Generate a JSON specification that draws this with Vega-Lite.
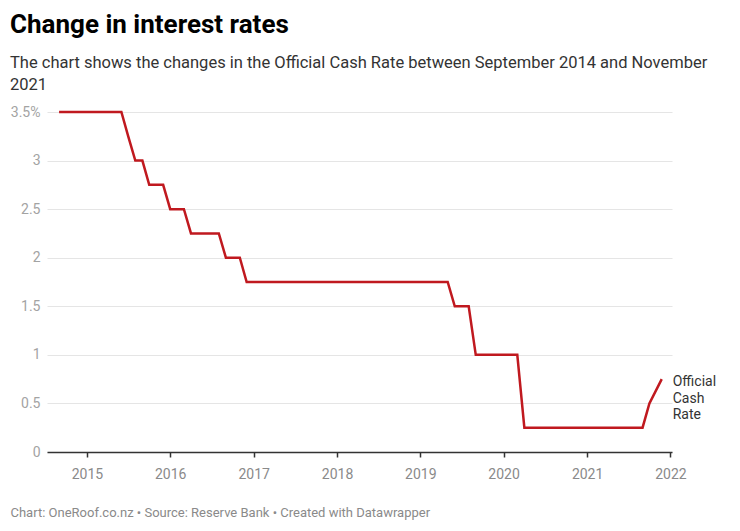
{
  "$schema": "https://vega.github.io/schema/vega-lite/v6.json",
  "width": 625,
  "height": 340,
  "padding": {"left": 10, "top": 11, "right": 10, "bottom": 10},
  "background": "white",
  "config": {"view": {"stroke": null}, "font": "Roboto"},
  "title": {
    "text": "Change in interest rates",
    "subtitle": ["The chart shows the changes in the Official Cash Rate between September 2014 and November", "2021"],
    "anchor": "start",
    "frame": "bounds",
    "font": "Roboto",
    "fontSize": 26,
    "fontWeight": "bold",
    "color": "#000000",
    "subtitleFont": "Roboto",
    "subtitleFontSize": 16.5,
    "subtitleColor": "#333333",
    "subtitlePadding": 17,
    "subtitleLineHeight": 22,
    "offset": 12
  },
  "data": {
    "values": [
      {"date": "2014-09-01", "rate": 3.5},
      {"date": "2015-06-01", "rate": 3.5},
      {"date": "2015-07-01", "rate": 3.25},
      {"date": "2015-08-01", "rate": 3.0},
      {"date": "2015-09-01", "rate": 3.0},
      {"date": "2015-10-01", "rate": 2.75},
      {"date": "2015-12-01", "rate": 2.75},
      {"date": "2016-01-01", "rate": 2.5},
      {"date": "2016-03-01", "rate": 2.5},
      {"date": "2016-04-01", "rate": 2.25},
      {"date": "2016-08-01", "rate": 2.25},
      {"date": "2016-09-01", "rate": 2.0},
      {"date": "2016-11-01", "rate": 2.0},
      {"date": "2016-12-01", "rate": 1.75},
      {"date": "2019-05-01", "rate": 1.75},
      {"date": "2019-06-01", "rate": 1.5},
      {"date": "2019-08-01", "rate": 1.5},
      {"date": "2019-09-01", "rate": 1.0},
      {"date": "2020-03-01", "rate": 1.0},
      {"date": "2020-04-01", "rate": 0.25},
      {"date": "2021-09-01", "rate": 0.25},
      {"date": "2021-10-01", "rate": 0.5},
      {"date": "2021-11-24", "rate": 0.75, "label": "Official\nCash\nRate"}
    ]
  },
  "encoding": {
    "x": {
      "field": "date",
      "type": "temporal",
      "scale": {"domain": [{"year": 2014, "month": 7, "date": 10}, {"year": 2022, "month": 1, "date": 8}]},
      "axis": {
        "title": "Chart: OneRoof.co.nz • Source: Reserve Bank • Created with Datawrapper",
        "titleAnchor": "start",
        "titleAlign": "left",
        "titleBaseline": "middle",
        "titleX": -37,
        "titleY": 60,
        "titleFont": "Roboto",
        "titleFontSize": 13,
        "titleFontWeight": "normal",
        "titleColor": "#8a8a8a",
        "format": "%Y",
        "values": [
          {"year": 2015, "month": 1, "date": 1},
          {"year": 2016, "month": 1, "date": 1},
          {"year": 2017, "month": 1, "date": 1},
          {"year": 2018, "month": 1, "date": 1},
          {"year": 2019, "month": 1, "date": 1},
          {"year": 2020, "month": 1, "date": 1},
          {"year": 2021, "month": 1, "date": 1},
          {"year": 2022, "month": 1, "date": 1}
        ],
        "grid": false,
        "tickSize": 5,
        "tickColor": "#333333",
        "tickWidth": 1.5,
        "domainColor": "#333333",
        "domainWidth": 1.5,
        "labelFont": "Roboto",
        "labelFontSize": 14,
        "labelColor": "#8a8a8a",
        "labelPadding": 10
      }
    },
    "y": {
      "field": "rate",
      "type": "quantitative",
      "scale": {"domain": [0, 3.5]},
      "axis": {
        "title": null,
        "values": [0, 0.5, 1, 1.5, 2, 2.5, 3, 3.5],
        "format": "~g",
        "labelExpr": "datum.value == 3.5 ? '3.5%' : datum.label",
        "domain": false,
        "ticks": false,
        "labelPadding": 7,
        "labelFont": "Roboto",
        "labelFontSize": 14,
        "labelColor": "#a3a3a3",
        "grid": true,
        "gridColor": "#e5e5e5",
        "gridWidth": 1
      }
    }
  },
  "layer": [
    {
      "mark": {"type": "line", "color": "#c0191f", "strokeWidth": 2.5, "strokeJoin": "miter"}
    },
    {
      "transform": [{"filter": "datum.label != null"}],
      "mark": {"type": "text", "align": "left", "baseline": "top", "dx": 11, "dy": -4, "fontSize": 14, "lineHeight": 16.5, "lineBreak": "\n", "color": "#333333", "font": "Roboto"},
      "encoding": {"text": {"field": "label"}}
    }
  ]
}
